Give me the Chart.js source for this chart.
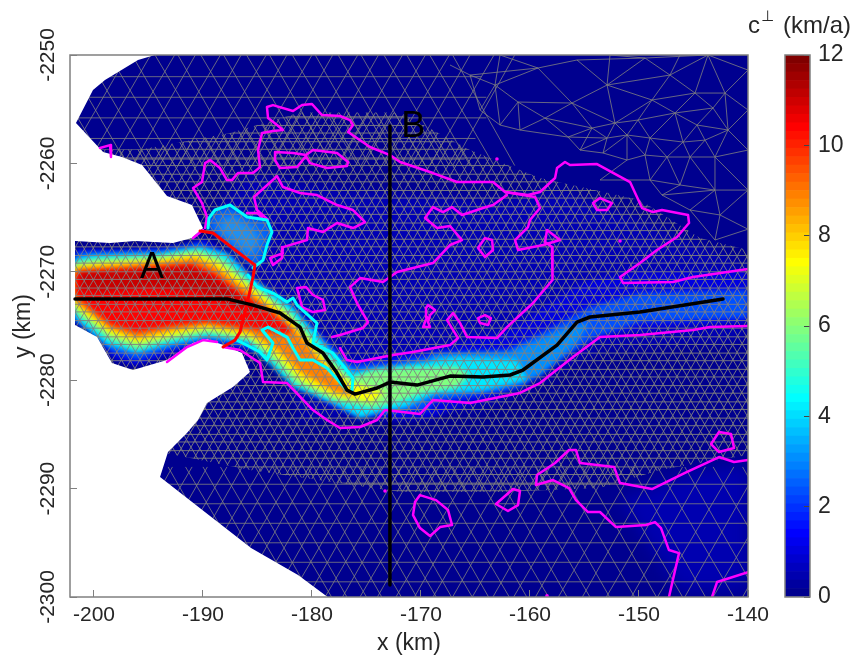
<!DOCTYPE html>
<html>
<head>
<meta charset="utf-8">
<script src="https://cdn.jsdelivr.net/npm/chart.js@4"></script>
<style>
  body { margin: 0; background: #fff; }
  canvas { position: absolute; left: 0; top: 0; }
</style>
</head>
<body>
<canvas id="fieldChart" width="856" height="659"></canvas>
<canvas id="colorbarChart" width="856" height="659"></canvas>
<script>
/**
 *  ! Data, everything in km
 * **/
const xTicks = [-200, -190, -180, -170, -160, -150, -140];
const yTicks = [-2250, -2260, -2270, -2280, -2290, -2300];
const colorbarTicks = [0, 2, 4, 6, 8, 10, 12];
const xRange = [-202.2, -140];
const yRange = [-2300, -2250];

const labelNames = ["A", "B"];
const labelX = [-194.67, -170.72];
const labelY = [-2269.65, -2256.65];

const centerLine = [[-201.74,-2272.51],[-187.8,-2272.5],[-185.41,-2273.07],[-182.93,-2273.8],[-181.1,-2275.1],[-180.46,-2276.57],[-178.99,-2277.5],[-177.7,-2279.34],[-176.79,-2280.91],[-176.05,-2281.28],[-174.03,-2280.72],[-172.84,-2280.17],[-170.36,-2280.45],[-167.34,-2279.62],[-164.31,-2279.71],[-161.83,-2279.52],[-160.64,-2279.06],[-157.52,-2276.76],[-155.69,-2274.64],[-154.49,-2274.17],[-149.91,-2273.71],[-142.29,-2272.51]];
const sectionB = [[-172.85,-2256.55],[-172.85,-2298.9]];
const frontLine = [[-190.27,-2266.24],[-189.08,-2266.42],[-185.23,-2269.38],[-185.41,-2270.48],[-185.87,-2272.6],[-186.6,-2275.56],[-187.06,-2276.3],[-188.16,-2276.94]];

// cyan contours
const cyanPatch = [[-189.54,-2265.96],[-189.45,-2265.04],[-188.9,-2264.3],[-187.52,-2263.84],[-185.96,-2264.95],[-184.13,-2265.22],[-183.67,-2266.33],[-184.13,-2267.53],[-184.49,-2268.92],[-185.41,-2269.65]];
const cyanUpper = [[-185.87,-2270.3],[-185.04,-2271.4],[-183.58,-2271.96],[-182.29,-2272.79],[-181.74,-2272.42],[-181.37,-2273.07],[-179.54,-2274.73],[-179.91,-2276.57],[-178.07,-2277.5],[-176.24,-2279.8],[-176.33,-2280.91]];
const cyanLower = [[-186.88,-2276.3],[-184.77,-2277.4],[-184.13,-2278.14],[-183.58,-2276.57],[-184.58,-2275.37],[-184.03,-2275.1],[-182.29,-2276.02],[-181.74,-2277.03],[-181.1,-2278.14],[-179.91,-2278.14],[-178.62,-2278.88],[-176.79,-2280.91]];

// magenta contours
const magentaLines = [
  [[-189.81,-2265.96],[-189.63,-2264.95],[-190.09,-2263.66],[-190.91,-2262.27],[-190.09,-2261.72],[-189.81,-2259.97],[-189.35,-2259.69],[-188.44,-2260.43],[-187.8,-2261.54],[-187.34,-2261.54],[-186.79,-2260.89],[-185.41,-2260.89],[-184.77,-2260.34],[-184.95,-2258.77],[-184.58,-2257.2],[-183.58,-2257.01],[-182.66,-2256.92],[-183.21,-2256.46],[-184.03,-2255.82],[-184.13,-2254.8],[-183.58,-2254.62],[-181.74,-2255.17],[-180.91,-2254.62],[-180,-2254.52],[-179.08,-2255.54],[-177.43,-2255.63],[-176.51,-2256],[-176.24,-2256.46],[-176.69,-2257.1],[-174.68,-2258.49],[-172.84,-2259.23],[-171.92,-2259.87],[-168.9,-2260.89],[-166.69,-2261.72],[-163.39,-2261.72],[-162.29,-2262.64],[-160.18,-2262.92],[-159.08,-2262.64],[-157.7,-2261.35],[-157.52,-2260.43],[-156.79,-2259.87],[-156.33,-2260.15],[-153.85,-2260.06],[-150.82,-2261.72],[-149.72,-2264.12],[-148.71,-2264.49],[-147.89,-2264.3],[-145.5,-2264.76],[-145.41,-2265.5],[-146.51,-2266.79],[-148.35,-2267.99],[-149.91,-2269.19],[-151.74,-2270.48],[-151.47,-2271.04],[-146.88,-2270.94],[-145.04,-2270.48],[-140,-2269.75]],
  [[-162.11,-2262.92],[-163.39,-2263.84],[-164.31,-2264.12],[-166.24,-2264.76],[-167.16,-2264.03],[-167.98,-2264.49],[-168.9,-2264.03],[-169.63,-2265.04],[-168.53,-2265.96],[-167.34,-2265.78],[-166.24,-2267.07],[-167.34,-2267.53],[-168.9,-2269.19],[-172.2,-2270.02],[-173.48,-2270.94],[-175.59,-2270.58],[-176.51,-2271.41],[-175.87,-2272.88],[-174.86,-2274.64],[-175.32,-2275.19],[-177.43,-2275.83],[-178.16,-2276.02]],
  [[-162.29,-2262.64],[-159.54,-2263.1],[-159.08,-2264.12],[-160,-2265.22],[-160.18,-2265.87],[-161.37,-2267.07],[-161.1,-2267.99],[-158.8,-2267.53],[-157.25,-2267.07],[-158.44,-2266.15],[-158.62,-2267.25],[-157.98,-2267.72],[-157.98,-2269.84],[-157.89,-2270.76],[-159.72,-2272.88],[-162.11,-2275.1],[-163.03,-2276.11],[-165.78,-2276.02],[-166.42,-2274.73],[-167.06,-2273.8],[-167.61,-2274.45],[-166.6,-2276.11],[-167.34,-2276.76],[-170.73,-2277.4],[-172.57,-2277.68],[-175.87,-2278.32],[-176.79,-2278.14],[-177.43,-2277.03]],
  [[-188.16,-2276.94],[-186.6,-2277.22],[-184.77,-2278.42],[-184.49,-2280.17],[-182.29,-2280.26],[-179.91,-2282.75],[-178.62,-2283.67],[-177.43,-2284.41],[-175.59,-2284.32],[-174.03,-2283.67],[-173.3,-2282.75],[-170.09,-2283.12],[-168.9,-2281.83],[-165.5,-2282.11],[-160.92,-2281.18],[-159.08,-2280.26],[-156.05,-2277.86],[-153.58,-2276.02],[-149.91,-2275.83],[-145.04,-2275.37],[-143.49,-2275.1],[-140,-2275]],
  [[-193.3,-2278.32],[-191.46,-2276.94],[-190,-2276.3],[-188.71,-2276.48]],
  [[-190.91,-2266.89],[-190,-2266.15]],
  [[-183.39,-2258.95],[-181.74,-2259.04],[-180.55,-2259.23],[-179.91,-2258.77],[-177.7,-2259.04],[-176.69,-2259.87],[-176.79,-2260.24],[-178.62,-2260.43],[-180.18,-2259.97],[-180.55,-2259.32],[-181.37,-2260.34],[-182.93,-2260.43],[-183.39,-2259.69],[-183.39,-2258.95]],
  [[-184.03,-2265.22],[-185.04,-2264.3],[-185.32,-2263.1],[-183.21,-2261.17],[-182.66,-2262.18],[-181.1,-2262.73],[-179.54,-2262.92],[-177.7,-2263.84],[-176.24,-2264.3],[-175.13,-2265.41],[-176.24,-2265.96],[-177.7,-2265.5],[-178.99,-2266.33],[-180.37,-2265.96],[-180.46,-2267.07],[-182.66,-2267.72],[-182.75,-2268.73],[-183.58,-2269.38],[-183.85,-2268.73],[-182.66,-2268.27]],
  [[-185.96,-2264.58],[-185.04,-2264.58],[-184.58,-2264.95]],
  [[-181.37,-2271.5],[-180.55,-2271.4],[-179.91,-2272.14],[-178.99,-2272.6],[-178.8,-2273.53],[-179.91,-2273.71],[-180.91,-2273.25],[-181.37,-2271.5]],
  [[-154.22,-2263.66],[-153.58,-2263.2],[-152.48,-2263.66],[-152.93,-2264.3],[-153.85,-2264.3],[-154.22,-2263.66]],
  [[-164.77,-2267.81],[-164.13,-2266.89],[-163.48,-2267.07],[-163.39,-2267.99],[-164.13,-2268.64],[-164.77,-2267.81]],
  [[-169.36,-2273.07],[-168.71,-2273.53],[-169.17,-2273.99],[-169.36,-2274.64],[-169.17,-2275.1],[-169.81,-2275.1],[-169.45,-2274.17],[-169.54,-2273.34],[-169.36,-2273.07]],
  [[-164.77,-2274.27],[-164.13,-2273.99],[-163.58,-2274.27],[-163.85,-2274.91],[-164.58,-2274.73],[-164.77,-2274.27]],
  [[-142.66,-2284.78],[-141.56,-2284.97],[-141.28,-2286.26],[-142.66,-2286.63],[-143.39,-2285.89],[-142.66,-2284.78]],
  [[-170.09,-2290.6],[-168.62,-2291.06],[-167.52,-2291.98],[-167.15,-2293.36],[-168.25,-2293.55],[-169.17,-2294.37],[-170.09,-2293.64],[-170.73,-2292.44],[-170.55,-2291.24],[-170.09,-2290.6]],
  [[-163.12,-2291.42],[-161.56,-2290.04],[-160.92,-2290.22],[-161.1,-2291.52],[-162.02,-2292.07],[-163.12,-2291.42]],
  [[-159.45,-2289.67],[-159.36,-2288.75],[-157.7,-2287.64],[-156.42,-2286.44],[-155.78,-2286.44],[-155.41,-2287.64],[-152.29,-2288],[-151.74,-2289.49],[-148.81,-2290.04],[-145.78,-2288.56],[-142.66,-2287.09],[-141.28,-2287.55],[-140,-2287.37]],
  [[-159.45,-2289.67],[-157.89,-2289.21],[-156.42,-2289.95],[-155.78,-2291.06],[-154.68,-2292.16],[-153.58,-2292.16],[-152.11,-2293.55],[-149.36,-2293.36],[-148.53,-2293.09],[-147.98,-2293.64],[-147.25,-2295.67],[-146.33,-2295.95],[-147.25,-2300]],
  [[-143.3,-2300],[-142.84,-2298.62],[-140,-2297.7]],
  [[-199.45,-2258.58],[-198.53,-2258.31],[-198.44,-2259.41]],
];
const magentaDots = [[-163.03,-2259.6],[-151.74,-2267.16],[-173.3,-2290.22],[-158.44,-2299.9]];

// c-perp field, nested outlines from low to high with their jet colours
const fieldColors = ["#0000b4", "#0000e0", "#0050ff", "#0090ff", "#00e8ff", "#80ff80", "#ffff00", "#ff8000", "#ff0000", "#c80000"];
const fieldBands = [
  [[-185.69,-2261.07],[-176.51,-2262.46],[-162.75,-2263.38],[-157.25,-2262.46],[-149.91,-2265.23],[-140,-2269.38],[-140,-2276.3],[-153.58,-2277.22],[-164.59,-2282.75],[-181.1,-2283.67],[-183.85,-2274.45],[-188.44,-2263.38]],
  [[-201.65,-2267.9],[-197.61,-2268],[-192.11,-2267.7],[-189.81,-2266.9],[-187.06,-2268.73],[-185.23,-2270.94],[-183.39,-2272.6],[-181.1,-2274.45],[-178.8,-2276.3],[-177.43,-2277.96],[-176.05,-2278.32],[-172.84,-2277.68],[-169.17,-2277.22],[-164.59,-2276.11],[-161.83,-2275.37],[-159.08,-2273.53],[-156.33,-2271.68],[-154.49,-2270.76],[-149.91,-2270.02],[-144.4,-2270.02],[-140,-2270.02],[-140,-2274.63],[-144.4,-2274.91],[-148.99,-2275.37],[-153.58,-2275.83],[-156.33,-2277.22],[-159.99,-2279.52],[-162.75,-2281.37],[-167.34,-2282.75],[-169.17,-2283.49],[-172.84,-2283.67],[-176.51,-2282.94],[-179.26,-2281.65],[-182,-2279.25],[-184.31,-2277.4],[-187.06,-2277.03],[-189.81,-2276.48],[-193,-2277.68],[-196.24,-2278.69],[-198.35,-2277.96],[-199.9,-2275.56],[-201.65,-2274.63]],
  [[-201.65,-2268.18],[-193.94,-2268],[-190.27,-2267.35],[-187.34,-2268.73],[-184.77,-2271.22],[-182.47,-2272.88],[-178.35,-2276.76],[-176.51,-2278.6],[-172.84,-2278.32],[-168.25,-2277.5],[-162.11,-2277.22],[-158.44,-2275.37],[-154.49,-2273.25],[-149.91,-2271.96],[-140,-2271.68],[-140,-2274.27],[-149.91,-2274.64],[-154.22,-2276.11],[-157.89,-2278.6],[-160.92,-2280.72],[-165.23,-2281.46],[-168.9,-2282.01],[-169.45,-2282.75],[-173.48,-2283.03],[-175.59,-2283.3],[-178.35,-2282.2],[-181.56,-2279.8],[-184.03,-2277.68],[-186.6,-2276.76],[-189.63,-2276.3],[-193,-2277.12],[-196.05,-2278.14],[-198.35,-2277.4],[-200.36,-2275.37],[-201.74,-2274.45]],
  [[-169.17,-2277.68],[-161.83,-2277.4],[-157.25,-2275.37],[-154.49,-2274.64],[-155.87,-2276.76],[-159.08,-2279.52],[-162.75,-2280.72],[-168.25,-2281.37]],
  [[-201.74,-2268.73],[-200.09,-2268.45],[-193.94,-2268.27],[-190.27,-2267.72],[-187.8,-2268.27],[-185.41,-2270.76],[-183.58,-2271.96],[-181.74,-2273.25],[-179.91,-2275.37],[-178.07,-2277.5],[-176.24,-2279.25],[-172.84,-2278.79],[-166.69,-2277.86],[-161.19,-2278.14],[-160.27,-2279.98],[-164.31,-2280.91],[-168.53,-2281.18],[-171.28,-2282.48],[-173.76,-2282.94],[-175.59,-2283.49],[-178.07,-2282.11],[-181.74,-2280.63],[-183.58,-2278.79],[-185.96,-2276.57],[-189.63,-2276.02],[-193,-2276.76],[-196.05,-2277.5],[-198.8,-2276.76],[-201.28,-2274.73],[-201.74,-2274.27]],
  [[-201.74,-2269.1],[-200.09,-2268.82],[-193.94,-2268.55],[-190.55,-2268],[-188.25,-2268.73],[-185.69,-2270.94],[-183.85,-2272.42],[-182.02,-2273.71],[-180.18,-2275.83],[-178.35,-2277.96],[-176.51,-2279.8],[-174.4,-2279.06],[-171.28,-2278.88],[-166.69,-2278.79],[-165.5,-2279.52],[-166.69,-2280.63],[-169.81,-2281.18],[-172.57,-2282.11],[-174.4,-2282.57],[-178.07,-2281.83],[-181.56,-2280.26],[-183.39,-2278.32],[-185.69,-2276.3],[-189.63,-2275.65],[-193,-2276.3],[-196.05,-2277.12],[-198.53,-2276.3],[-201.1,-2274.27],[-201.74,-2273.71]],
  [[-201.74,-2269.47],[-199.9,-2269.19],[-193.94,-2268.82],[-190.55,-2268.36],[-188.62,-2269.1],[-185.69,-2271.31],[-182.47,-2273.71],[-180.64,-2275.83],[-178.8,-2278.14],[-176.51,-2280.17],[-173.3,-2281.09],[-174.49,-2282.01],[-177.89,-2281.55],[-181.1,-2279.99],[-183.12,-2277.96],[-185.69,-2276.02],[-189.63,-2275.28],[-193,-2275.93],[-196.05,-2276.57],[-198.53,-2275.74],[-200.82,-2273.99],[-201.74,-2273.16]],
  [[-201.74,-2269.65],[-199.45,-2269.47],[-193.94,-2269.1],[-190.73,-2268.73],[-188.9,-2269.47],[-186.15,-2271.5],[-182.93,-2273.99],[-181.1,-2275.83],[-179.08,-2278.32],[-176.97,-2280.72],[-176.05,-2281.55],[-177.89,-2281.09],[-181.1,-2279.25],[-182.93,-2277.4],[-185.69,-2275.65],[-189.63,-2274.91],[-193,-2275.47],[-196.05,-2276.11],[-198.53,-2275.28],[-200.55,-2273.71],[-201.74,-2272.79]],
  [[-201.74,-2270.11],[-199.45,-2269.93],[-193.94,-2269.56],[-191.01,-2269.28],[-189.17,-2270.02],[-186.6,-2271.87],[-183.85,-2273.71],[-181.74,-2275.37],[-182.47,-2275.83],[-185.69,-2275.19],[-189.63,-2274.64],[-193,-2275.01],[-196.05,-2275.56],[-198.53,-2274.82],[-200.36,-2273.34],[-201.74,-2272.14]],
  [[-201.28,-2270.02],[-196.69,-2269.84],[-191.19,-2269.56],[-188.9,-2270.58],[-186.15,-2272.6],[-184.58,-2273.71],[-186.6,-2273.34],[-190.27,-2271.87],[-194.86,-2271.5],[-199.45,-2271.87],[-201.28,-2271.68]],
];
const patchInner = [[-188.44,-2265.04],[-187.06,-2264.76],[-185.23,-2265.96],[-184.58,-2267.07],[-185.5,-2268.73],[-187.06,-2267.53],[-188.62,-2266.33]];
const lowRightTint = [[-151.74,-2291.06],[-144.4,-2288.29],[-140,-2287.83],[-140,-2299.36],[-146.24,-2299.36]];

// area outside the model domain
const outsideDomain = [[-202.2,-2250],[-194.4,-2250],[-195.96,-2250.46],[-198.99,-2252.31],[-200.09,-2253.23],[-201.65,-2256.27],[-199.17,-2258.95],[-197.43,-2259.41],[-195.59,-2260.15],[-193.3,-2263.01],[-191.01,-2263.84],[-190.27,-2265.41],[-190,-2265.96],[-191.01,-2266.88],[-192.75,-2267.34],[-196.24,-2267.16],[-198.53,-2267.34],[-201.74,-2267.16],[-201.74,-2274.91],[-199.72,-2276.01],[-198.35,-2278.41],[-196.42,-2279.06],[-193.3,-2278.14],[-190.92,-2276.57],[-189.63,-2276.2],[-188.16,-2276.75],[-186.42,-2277.49],[-185.69,-2279.24],[-187.25,-2280.63],[-189.63,-2282.1],[-190.46,-2283.67],[-191.47,-2284.87],[-193.21,-2286.62],[-193.94,-2288.93],[-185.59,-2295.48],[-181.28,-2297.97],[-178.56,-2300],[-202.2,-2300]];

// mesh, fine part as three families of long edges
const fineRowY = [-2255.0,-2255.7,-2256.5,-2257.2,-2258.0,-2258.7,-2259.5,-2260.2,-2261.0,-2261.7,-2262.5,-2263.2,-2264.0,-2264.7,-2265.5,-2266.2,-2267.0,-2267.7,-2268.5,-2269.2,-2270.0,-2270.7,-2271.5,-2272.2,-2273.0,-2273.7,-2274.5,-2275.2,-2276.0,-2276.7,-2277.5,-2278.2,-2279.0,-2279.7,-2280.5,-2281.2,-2282.0,-2282.7,-2283.5,-2284.2,-2285.0,-2285.7,-2286.5,-2287.2,-2288.0,-2288.7,-2289.5,-2290.2,-2291.0];
const fineSkewLow = [-222.8,-221.9,-221.1,-220.2,-219.4,-218.5,-217.7,-216.8,-216.0,-215.1,-214.3,-213.4,-212.6,-211.7,-210.9,-210.0,-209.2,-208.3,-207.5,-206.6,-205.8,-204.9,-204.1,-203.2,-202.4,-201.5,-200.7,-199.8,-199.0,-198.1,-197.3,-196.4,-195.6,-194.7,-193.9,-193.0,-192.2,-191.3,-190.5,-189.6,-188.8,-187.9,-187.1,-186.2,-185.4,-184.5,-183.7,-182.8,-182.0,-181.1,-180.3,-179.4,-178.6,-177.7,-176.9,-176.0,-175.2,-174.3,-173.5,-172.6,-171.8,-170.9,-170.1,-169.2,-168.4,-167.5,-166.7,-165.8,-165.0,-164.1,-163.3,-162.4,-161.6,-160.7,-159.9,-159.0,-158.2,-157.3,-156.5,-155.6,-154.8,-153.9,-153.1,-152.2,-151.4,-150.5,-149.7,-148.8,-148.0,-147.1,-146.3,-145.4,-144.6,-143.7,-142.9,-142.0,-141.2,-140.3];
const fineSkewHigh = [-202.0,-201.2,-200.2,-199.5,-198.5,-197.8,-196.8,-196.1,-195.1,-194.4,-193.4,-192.7,-191.7,-191.0,-190.0,-189.3,-188.3,-187.6,-186.6,-185.9,-184.9,-184.2,-183.2,-182.5,-181.5,-180.8,-179.8,-179.1,-178.1,-177.4,-176.4,-175.7,-174.7,-174.0,-173.0,-172.3,-171.3,-170.6,-169.6,-168.9,-167.9,-167.2,-166.2,-165.5,-164.5,-163.8,-162.8,-162.1,-161.1,-160.4,-159.4,-158.7,-157.7,-157.0,-156.0,-155.3,-154.3,-153.6,-152.6,-151.9,-150.9,-150.2,-149.2,-148.5,-147.5,-146.8,-145.8,-145.1,-144.1,-143.4,-142.4,-141.7,-140.7,-140.0,-139.0,-138.3,-137.3,-136.6,-135.6,-134.9,-133.9,-133.2,-132.2,-131.5,-130.5,-129.8,-128.8,-128.1,-127.1,-126.4,-125.4,-124.7,-123.7,-123.0,-122.0,-121.3,-120.3,-119.6];
const fineSkewY = [-2291, -2255];

// mesh, medium part along the top left
const topRowY = [-2252, -2253.9, -2255.8, -2257.7, -2259.6];
const topRowEnd = [-164.5, -164, -164, -165, -166];
const topSkewLow = [-207,-204.9,-202.8,-200.7,-198.6,-196.5,-194.4,-192.3,-190.2,-188.1,-186,-183.9,-181.8,-179.7,-177.6,-175.5,-173.4,-171.3,-169.2,-167.1];
const topSkewHigh = [-201.2,-198.9,-196.9,-194.8,-192.6,-190.7,-188.4,-186.5,-184.2,-182.3,-180,-178.1,-175.8,-173.9,-171.7,-169.6,-167.4,-165.5,-163.3,-161.4];
const topSkewY = [-2260.2, -2250];

// mesh, medium part along the bottom
const lowRowY = [-2289.6, -2291.4, -2293.2, -2295, -2296.8, -2298.6];
const lowSkewLow = [-206,-204.4,-202.8,-201.2,-199.6,-198,-196.4,-194.8,-193.2,-191.6,-190,-188.4,-186.8,-185.2,-183.6,-182,-180.4,-178.8,-177.2,-175.6,-174,-172.3,-170.6,-168.9,-167.1,-165.3,-163.4,-161.5,-159.5,-157.4,-155.2,-153,-150.7,-148.3,-145.8,-143.2,-140.5];
const lowSkewHigh = [-199.1,-197.6,-195.9,-194.2,-192.8,-191,-189.6,-187.8,-186.4,-184.6,-183.2,-181.4,-180,-178.2,-176.8,-175,-173.6,-171.8,-170.4,-168.6,-167.2,-165.3,-163.8,-161.9,-160.3,-158.3,-156.6,-154.5,-152.7,-150.4,-148.4,-146,-143.9,-141.3,-139,-136.2,-133.7];
const lowSkewY = [-2300, -2288];

// mesh, coarse part top right, hand read nodes and edges
const coarseX = [-159.27,-163.21,-161.1,-158.62,-156.15,-152.93,-155.69,-149.45,-147.16,-143.67,-142.11,-144.86,-148.81,-146.7,-143.21,-144.68,-141.83,-150.09,-152.2,-154.31,-156.51,-151.1,-152.93,-148.99,-145.96,-143.94,-147.43,-143.03,-145.32,-149.45,-155.41,-153.3,-151.1,-160.92,-165.5,-167.34,-164.58,-162.75,-140,-140,-140,-140,-143.03,-146.24,-148.99,-153.58,-162.75,-152.66,-146.24,-145.32,-142.57,-140,-143.03,-147.89];
const coarseY = [-2251.2,-2252.77,-2254.34,-2255.82,-2254.43,-2252.77,-2250.46,-2250.28,-2251.85,-2250,-2253.51,-2253.51,-2254.15,-2255.35,-2254.89,-2256.46,-2256.92,-2256,-2256.28,-2256.74,-2257.57,-2257.38,-2257.66,-2257.66,-2258.03,-2257.85,-2259.41,-2259.41,-2259.41,-2259.23,-2258.77,-2259.04,-2259.69,-2256.92,-2251.85,-2250.92,-2255.08,-2256.46,-2251.39,-2255.07,-2258.77,-2262.46,-2262.46,-2261.99,-2261.53,-2261.53,-2250,-2250,-2250,-2264.3,-2264.76,-2266.07,-2267.07,-2262.92];
const coarseEdges = [34,0,0,6,6,7,7,9,0,1,1,2,2,3,3,4,4,5,5,6,0,4,1,34,2,4,5,7,7,8,8,9,5,8,5,12,12,8,8,11,11,9,11,10,10,9,10,38,9,38,11,12,11,13,13,12,13,14,14,10,14,11,13,15,15,14,14,16,16,10,16,39,10,39,15,16,12,17,17,18,18,5,18,4,18,19,19,3,19,4,12,18,17,21,21,18,21,22,22,18,22,19,19,20,20,3,20,22,20,30,30,19,30,22,30,31,31,22,31,21,31,32,32,21,21,23,23,17,17,13,23,13,23,24,24,13,24,15,24,25,25,15,25,16,25,27,27,16,27,40,16,40,24,28,28,25,28,27,28,26,26,24,26,23,26,29,29,23,29,21,29,32,27,41,28,42,42,27,42,41,42,43,43,28,43,26,43,44,44,26,44,29,44,45,45,32,3,33,33,20,33,37,37,2,34,36,36,37,36,1,37,1,2,33,1,46,46,0,5,47,47,7,8,48,48,9,35,34,42,49,49,50,50,42,50,41,50,51,41,51,50,52,52,51,49,52,43,53,53,49,53,42,44,53];

// areas where the fine mesh does not reach
const topMask = [[-202.2,-2250],[-140,-2250],[-140,-2267.99],[-144.4,-2266.89],[-149.91,-2263.38],[-159.08,-2261.35],[-165.5,-2258.77],[-171.92,-2255.3],[-181.1,-2255.3],[-187.52,-2257.2],[-195.59,-2258.7],[-202.2,-2258.7]];
const lowMask = [[-199.45,-2285.52],[-185.69,-2288.29],[-171.92,-2290.32],[-162.75,-2290.32],[-153.58,-2289.95],[-148.07,-2288.29],[-140,-2286.9],[-140,-2300],[-199.45,-2300]];

// colorbar, matlab jet with 64 levels
const colorbarStep = 0.1875;
const colorbarColors = ["#00008f","#00009f","#0000af","#0000bf","#0000cf","#0000df","#0000ef","#0000ff","#0010ff","#0020ff","#0030ff","#0040ff","#0050ff","#0060ff","#0070ff","#0080ff","#008fff","#009fff","#00afff","#00bfff","#00cfff","#00dfff","#00efff","#00ffff","#10ffef","#20ffdf","#30ffcf","#40ffbf","#50ffaf","#60ff9f","#70ff8f","#80ff80","#8fff70","#9fff60","#afff50","#bfff40","#cfff30","#dfff20","#efff10","#ffff00","#ffef00","#ffdf00","#ffcf00","#ffbf00","#ffaf00","#ff9f00","#ff8f00","#ff8000","#ff7000","#ff6000","#ff5000","#ff4000","#ff3000","#ff2000","#ff1000","#ff0000","#ef0000","#df0000","#cf0000","#bf0000","#af0000","#9f0000","#8f0000","#800000"];

/**
 *  ! Helpers
 * **/
const NAVY = "#00008f";
const MESH = "#808080";
const MAGENTA = "#ff00ff";
const INK = "#262626";
const FONT = "Liberation Sans";
const GAP = { x: null, y: null };

const toPoints = (pts) => pts.map(([x, y]) => ({ x, y }));

const shape = (pts, color, blur) => ({
  data: toPoints(pts),
  showLine: true,
  fill: "shape",
  backgroundColor: color,
  borderWidth: 0,
  pointRadius: 0,
  blur: blur || 0,
});

const curve = (pts, color, width) => ({
  data: toPoints(pts),
  showLine: true,
  fill: false,
  borderColor: color,
  borderWidth: width,
  borderJoinStyle: "round",
  borderCapStyle: "round",
  pointRadius: 0,
});

const edges = (points, width) => ({
  data: points,
  showLine: true,
  fill: false,
  spanGaps: false,
  borderColor: MESH,
  borderWidth: width,
  pointRadius: 0,
});

const meshLines = (rowY, rowEnd, rowStart, low, high, skewY) => {
  const pts = [];
  rowY.forEach((y, i) => {
    pts.push({ x: rowStart, y }, { x: Array.isArray(rowEnd) ? rowEnd[i] : rowEnd, y }, GAP);
  });
  low.forEach((x, i) => {
    pts.push({ x, y: skewY[0] }, { x: high[i], y: skewY[1] }, GAP);
    pts.push({ x: high[i], y: skewY[0] }, { x, y: skewY[1] }, GAP);
  });
  return pts;
};

const coarseLines = () => {
  const pts = [];
  for (let i = 0; i < coarseEdges.length; i += 2) {
    const a = coarseEdges[i];
    const b = coarseEdges[i + 1];
    pts.push({ x: coarseX[a], y: coarseY[a] }, { x: coarseX[b], y: coarseY[b] }, GAP);
  }
  return pts;
};

/**
 *  ! Layers, listed bottom to top
 * **/
const layers = [
  shape([[xRange[0], yRange[0]], [xRange[1], yRange[0]], [xRange[1], yRange[1]], [xRange[0], yRange[1]]], NAVY),
];

fieldBands.forEach((band, i) => layers.push(shape(band, fieldColors[i], i === 0 ? 6 : 2.5)));
layers.push(shape(cyanPatch, "#0060f8", 2));
layers.push(shape(patchInner, "#2090f0", 4));

layers.push(edges(meshLines(fineRowY, xRange[1], xRange[0], fineSkewLow, fineSkewHigh, fineSkewY), 0.9));
layers.push(shape(topMask, NAVY));
layers.push(shape(lowMask, NAVY));
layers.push(shape(lowRightTint, "#0000b0", 8));
layers.push(edges(meshLines(topRowY, topRowEnd, xRange[0], topSkewLow, topSkewHigh, topSkewY), 0.8));
layers.push(edges(meshLines(lowRowY, xRange[1], -197, lowSkewLow, lowSkewHigh, lowSkewY), 0.8));
layers.push(edges(coarseLines(), 0.8));
layers.push(shape(outsideDomain, "#ffffff"));

magentaLines.forEach((l) => layers.push(curve(l, MAGENTA, 2.5)));
layers.push({
  data: toPoints(magentaDots),
  showLine: false,
  pointRadius: 1.8,
  pointBackgroundColor: MAGENTA,
  pointBorderWidth: 0,
});
layers.push(curve(cyanPatch, "#00ffff", 3));
layers.push(curve(cyanUpper, "#00ffff", 3));
layers.push(curve(cyanLower, "#00ffff", 3));
layers.push(curve(frontLine, "#ff0000", 3));
layers.push(curve(centerLine, "#000000", 3.5));
layers.push(curve(sectionB, "#000000", 3.5));

const datasets = layers.reverse(); // first dataset is painted last

/**
 *  ! Plugins
 * **/
// soft edges for the field, the next layer's filter is set before the filler paints it
const blurPlugin = {
  id: "blurLayers",
  beforeDatasetsDraw(chart) {
    const last = chart.data.datasets.length - 1;
    chart.ctx.filter = chart.data.datasets[last].blur ? "blur(" + chart.data.datasets[last].blur + "px)" : "none";
  },
  afterDatasetDraw(chart, args) {
    const next = chart.data.datasets[args.index - 1];
    chart.ctx.filter = next && next.blur ? "blur(" + next.blur + "px)" : "none";
  },
};

const framePlugin = {
  id: "frame",
  afterDraw(chart) {
    const { left, top, width, height } = chart.chartArea;
    const ctx = chart.ctx;
    ctx.save();
    ctx.strokeStyle = MESH;
    ctx.lineWidth = 1.5;
    ctx.strokeRect(left, top, width, height);
    ctx.restore();
  },
};

const textPlugin = {
  id: "texts",
  afterDraw(chart) {
    const ctx = chart.ctx;
    ctx.save();
    ctx.fillStyle = "#000000";
    ctx.font = "36px '" + FONT + "'";
    ctx.textAlign = "center";
    ctx.textBaseline = "middle";
    labelNames.forEach((name, i) => {
      ctx.fillText(name, chart.scales.x.getPixelForValue(labelX[i]), chart.scales.y.getPixelForValue(labelY[i]));
    });
    ctx.fillStyle = INK;
    ctx.textAlign = "left";
    ctx.textBaseline = "alphabetic";
    ctx.font = "24px '" + FONT + "'";
    ctx.fillText("c", 748, 33);
    ctx.font = "15px 'DejaVu Sans'";
    ctx.fillText("\u22A5", 761, 21);
    ctx.font = "24px '" + FONT + "'";
    ctx.fillText("(km/a)", 783, 33);
    ctx.restore();
  },
};

/**
 *  ! Field chart
 * **/
new Chart(document.getElementById("fieldChart"), {
  type: "scatter",
  data: { datasets },
  options: {
    responsive: false,
    animation: false,
    events: [],
    layout: { padding: { top: 55, right: 108, left: 0, bottom: 0 } },
    plugins: { legend: { display: false }, tooltip: { enabled: false } },
    scales: {
      x: {
        type: "linear",
        min: xRange[0],
        max: xRange[1],
        afterFit: (s) => { s.height = 62; },
        afterBuildTicks: (s) => { s.ticks = xTicks.map((value) => ({ value })); },
        ticks: {
          autoSkip: false,
          maxRotation: 0,
          color: INK,
          font: { family: FONT, size: 21 },
          padding: 13,
          callback: (v) => String(v),
        },
        grid: { drawOnChartArea: false, color: MESH, tickLength: -7, z: 1 },
        border: { display: false },
        title: { display: true, text: "x (km)", color: INK, font: { family: FONT, size: 23 }, padding: { top: 0, bottom: 2 } },
      },
      y: {
        type: "linear",
        min: yRange[0],
        max: yRange[1],
        afterFit: (s) => { s.width = 70; },
        afterBuildTicks: (s) => { s.ticks = yTicks.map((value) => ({ value })); },
        ticks: {
          autoSkip: false,
          minRotation: 90,
          maxRotation: 90,
          crossAlign: "center",
          color: INK,
          font: { family: FONT, size: 21 },
          padding: 2,
          callback: (v) => String(v),
        },
        grid: { drawOnChartArea: false, color: MESH, tickLength: -7, z: 1 },
        border: { display: false },
        title: { display: true, text: "y (km)", color: INK, font: { family: FONT, size: 23 }, padding: { top: 10, bottom: 0 } },
      },
    },
  },
  plugins: [blurPlugin, framePlugin, textPlugin],
});

/**
 *  ! Colorbar chart
 * **/
new Chart(document.getElementById("colorbarChart"), {
  type: "bar",
  data: {
    labels: ["c"],
    datasets: colorbarColors.map((color) => ({
      data: [colorbarStep],
      backgroundColor: color,
      borderWidth: 0,
      barPercentage: 1,
      categoryPercentage: 1,
    })),
  },
  options: {
    responsive: false,
    animation: false,
    events: [],
    layout: { padding: { top: 55, right: 0, left: 785, bottom: 62 } },
    plugins: { legend: { display: false }, tooltip: { enabled: false } },
    scales: {
      x: { stacked: true, display: false },
      y: {
        stacked: true,
        position: "right",
        min: 0,
        max: 12,
        afterFit: (s) => { s.width = 46; },
        afterBuildTicks: (s) => { s.ticks = colorbarTicks.map((value) => ({ value })); },
        ticks: { color: INK, font: { family: FONT, size: 23 }, padding: 14 },
        grid: { drawOnChartArea: false, color: "#444444", tickLength: -6, z: 1 },
        border: { display: false },
      },
    },
  },
  plugins: [framePlugin],
});
</script>
</body>
</html>
